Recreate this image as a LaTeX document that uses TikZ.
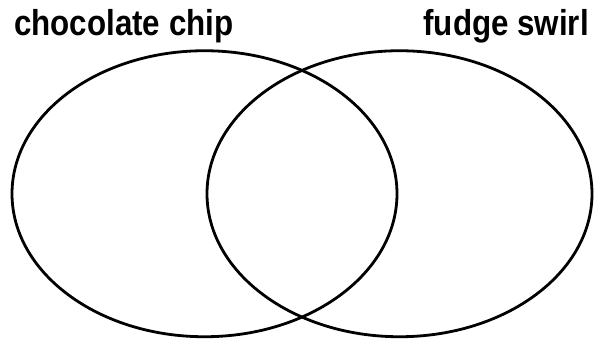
\documentclass[tikz,border=0pt]{standalone}
\usepackage{fontspec}
\newfontfamily\lab[FakeStretch=0.87]{Liberation Sans}
\tikzset{
  setring/.style={draw=black, line width=2.8pt},
  setlabel/.style={inner sep=0pt, font=\lab\bfseries\fontsize{36}{40}\selectfont}
}
\begin{document}
\begin{tikzpicture}[x=1pt,y=1pt]
\useasboundingbox (0,0) rectangle (602,339);
\draw[setring] (204.5,145.25) ellipse [x radius=192.5, y radius=143];
\draw[setring] (399.5,145.25) ellipse [x radius=192.5, y radius=143];
\node[setlabel, anchor=base west] (cc) at (14,303) {chocolate chip};
\node[setlabel, anchor=base east] (fs) at (589,303) {fudge swirl};
\end{tikzpicture}
\end{document}
